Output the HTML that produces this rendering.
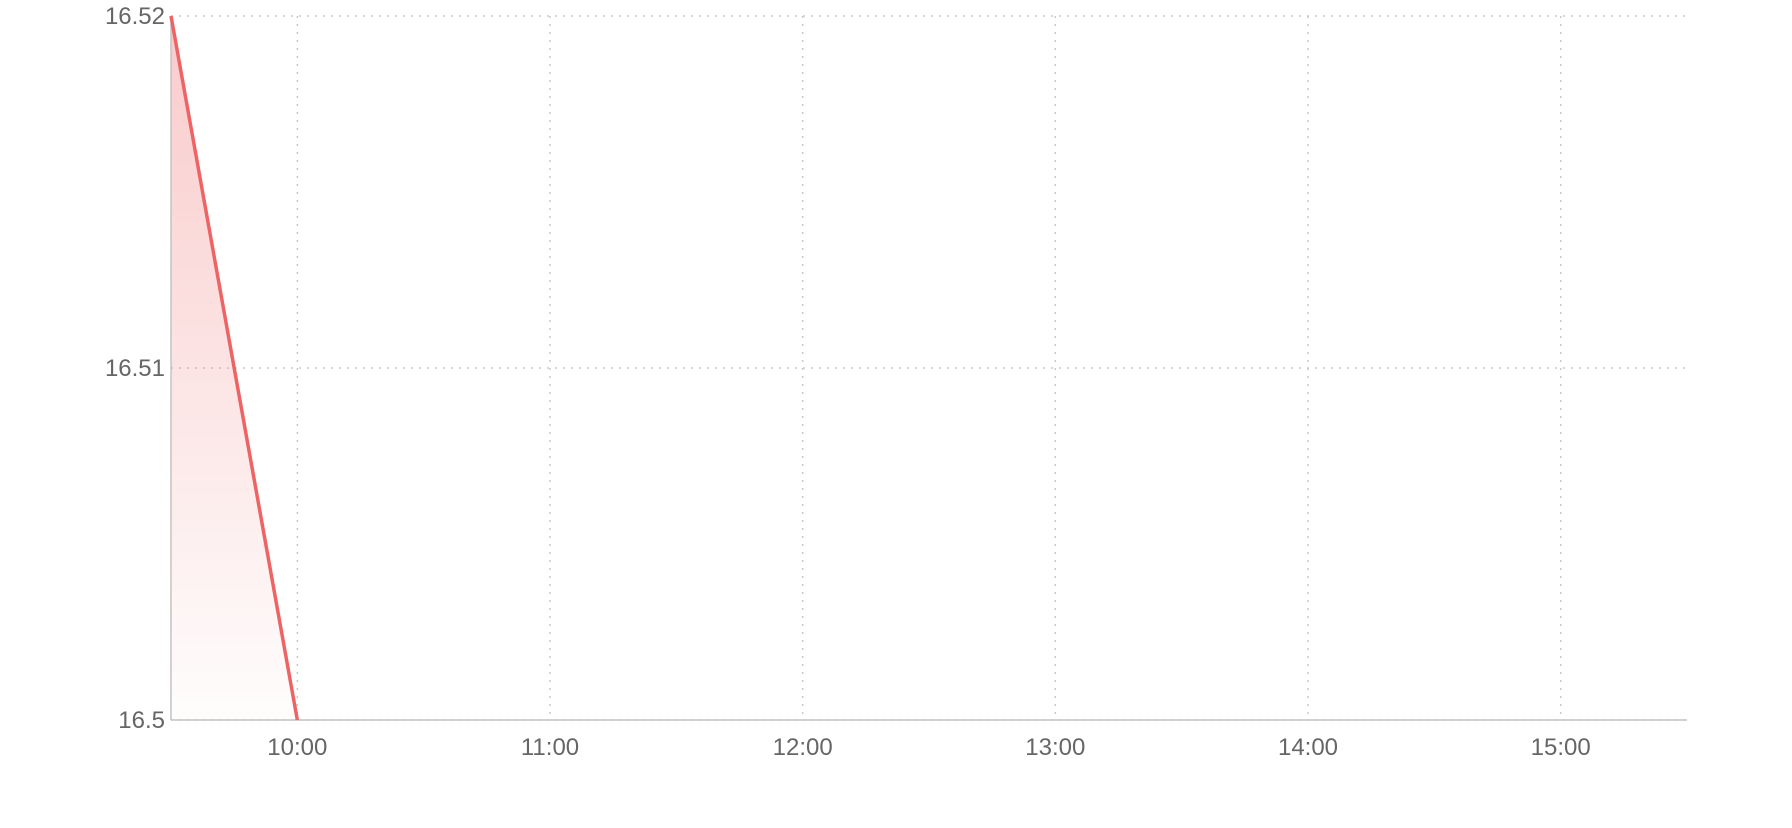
<!DOCTYPE html>
<html><head><meta charset="utf-8"><style>
html,body{margin:0;padding:0;background:#fff;}
svg{display:block;font-family:"Liberation Sans",sans-serif;}
</style></head><body>
<svg id="chart" width="1792" height="828">
<defs><linearGradient id="fillGrad" x1="0" y1="0" x2="0" y2="1">
<stop offset="0" stop-color="#f28b8b" stop-opacity="0.45"/>
<stop offset="1" stop-color="#f28b8b" stop-opacity="0.02"/>
</linearGradient></defs>
</svg>
<script>
const times = [9.5, 10.0];
const prices = [16.52, 16.50];
const yTicks = [16.5, 16.51, 16.52];
const yTickLabels = ["16.5", "16.51", "16.52"];
const xTicks = [10, 11, 12, 13, 14, 15];
const xTickLabels = ["10:00", "11:00", "12:00", "13:00", "14:00", "15:00"];

const L=171, R=1687, T=16, B=720;
const x0=9.5, x1=15.5, y0=16.5, y1=16.52;
const sx = v => L + (v-x0)/(x1-x0)*(R-L);
const sy = v => B - (v-y0)/(y1-y0)*(B-T);
const svg = document.getElementById('chart');
const NS='http://www.w3.org/2000/svg';
function mk(tag, attrs){const e=document.createElementNS(NS,tag);for(const k in attrs)e.setAttribute(k,attrs[k]);svg.appendChild(e);return e;}

yTicks.forEach((t,i)=>{
  const g=mk('line',{x1:L,x2:R,y1:sy(t),y2:sy(t),stroke:'#c8c8c8','stroke-width':1.5,'stroke-dasharray':'2 6'});
  
  
  const tx=mk('text',{x:165,y:sy(t)+8,'text-anchor':'end','font-size':24,fill:'#666'});
  tx.textContent=yTickLabels[i];
  
  
});
xTicks.forEach((t,i)=>{
  const g=mk('line',{x1:sx(t),x2:sx(t),y1:T,y2:B,stroke:'#c8c8c8','stroke-width':1.5,'stroke-dasharray':'2 6'});
  
  
  const tx=mk('text',{x:sx(t),y:755,'text-anchor':'middle','font-size':24,fill:'#666'});
  tx.textContent=xTickLabels[i];
  
  
});
let pts=times.map((t,i)=>sx(t)+','+sy(prices[i]));
const area=mk('polygon',{points:pts.join(' ')+' '+sx(times[times.length-1])+','+B+' '+sx(times[0])+','+B,fill:'url(#fillGrad)'});


const ax=mk('line',{x1:L,x2:L,y1:T,y2:B,stroke:'#c4c4c4','stroke-width':1.5});


const bx=mk('line',{x1:L,x2:R,y1:B,y2:B,stroke:'#c4c4c4','stroke-width':1.5});


const line=mk('polyline',{points:pts.join(' '),fill:'none',stroke:'#ee6464','stroke-width':3.5});


</script>
</body></html>
